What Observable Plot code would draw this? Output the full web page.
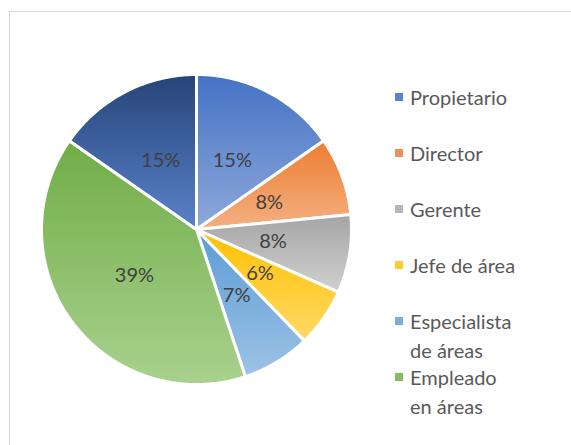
<!DOCTYPE html>
<html>
<head>
<meta charset="utf-8">
<script src="https://cdn.jsdelivr.net/npm/d3@7"></script>
<script src="https://cdn.jsdelivr.net/npm/@observablehq/plot@0.6"></script>
<style>
  html, body { margin: 0; padding: 0; background: #fff; overflow: hidden; width: 571px; height: 445px; }
  #wrap { position: relative; width: 571px; height: 445px; overflow: hidden; font-family: Lato, "Open Sans", sans-serif; }
  #frame { position: absolute; left: 9px; top: 11px; width: 700px; height: 600px; border: 1px solid #d9d9d9; box-sizing: border-box; }
  #chart { position: absolute; left: 0; top: 0; }
  #legend { position: absolute; left: 0; top: 0; }
  .item { position: absolute; left: 395px; display: flex; align-items: flex-start; }
  .sw { width: 8px; height: 8px; margin-top: 10px; flex: none; }
  .lab { margin-left: 7px; font-size: 20px; line-height: 29px; color: #595959; width: 160px; text-wrap: balance; }
</style>
</head>
<body>
<div id="wrap">
  <div id="frame"></div>
  <div id="chart"></div>
  <div id="legend"></div>
</div>
<script>
// Data
const categories = ["Propietario", "Director", "Gerente", "Jefe de área", "Especialista de áreas", "Empleado en áreas", "Otros"];
const percentages = [15, 8, 8, 6, 7, 39, 15];
// Legend shows only the entries that fit (as in the reference)
const legendCount = 6;

// Styles (Office theme gradients: top colour -> bottom colour)
const topColors = ["#4472C4", "#ED7D31", "#A5A5A5", "#FFC000", "#5B9BD5", "#70AD47", "#264478"];
const bottomColors = ["#8EA9DB", "#F4B183", "#D0D0D0", "#FFD966", "#9DC3E6", "#A9D18E", "#5A82CB"];
const swatchColors = ["#5B82CC", "#F09257", "#B8B8B8", "#FFCB33", "#79AEDD", "#86BD63"];

const arcs = d3.pie().sort(null).value(d => d)(percentages);

// Polygon rings for each slice, in unit-circle coordinates (y up)
const rings = arcs.map((a, i) => {
  const pts = [{x: 0, y: 0}];
  const n = Math.max(2, Math.ceil((a.endAngle - a.startAngle) / (Math.PI / 180)));
  for (let k = 0; k <= n; k++) {
    const t = a.startAngle + (a.endAngle - a.startAngle) * k / n;
    pts.push({x: Math.sin(t), y: Math.cos(t)});
  }
  pts.push({x: 0, y: 0});
  return pts;
});

const labelR = 0.5;
const labels = arcs.map((a, i) => {
  const m = (a.startAngle + a.endAngle) / 2;
  return {x: labelR * Math.sin(m), y: labelR * Math.cos(m), text: percentages[i] + "%"};
});

const chart = Plot.plot({
  width: 571,
  height: 445,
  marginLeft: 41,
  marginRight: 220,
  marginTop: 74,
  marginBottom: 61,
  x: {domain: [-1, 1], axis: null},
  y: {domain: [-1, 1], axis: null},
  style: {background: "transparent", fontFamily: "Lato, 'Open Sans', sans-serif"},
  marks: [
    ...rings.map((r, i) => Plot.line(r, {
      x: "x", y: "y",
      fill: `url(#grad${i})`,
      stroke: "white",
      strokeWidth: 3,
      strokeLinejoin: "miter",
      curve: "linear"
    })),
    Plot.text(labels, {x: "x", y: "y", text: "text", fill: "#404040", fontSize: 20})
  ]
});

// gradient definitions
const svg = d3.select(chart);
const defs = svg.insert("defs", ":first-child");
topColors.forEach((c, i) => {
  const g = defs.append("linearGradient").attr("id", `grad${i}`)
    .attr("x1", 0).attr("y1", 0).attr("x2", 0).attr("y2", 1);
  g.append("stop").attr("offset", "0%").attr("stop-color", c);
  g.append("stop").attr("offset", "100%").attr("stop-color", bottomColors[i]);
});

document.getElementById("chart").appendChild(chart);

// Legend
const legend = document.getElementById("legend");
categories.slice(0, legendCount).forEach((name, i) => {
  const item = document.createElement("div");
  item.className = "item";
  item.style.top = (97 + 56 * i - 14.5) + "px";
  const sw = document.createElement("div");
  sw.className = "sw";
  sw.style.background = swatchColors[i];
  const lab = document.createElement("div");
  lab.className = "lab";
  lab.textContent = name;
  item.appendChild(sw);
  item.appendChild(lab);
  legend.appendChild(item);
});
</script>
</body>
</html>
